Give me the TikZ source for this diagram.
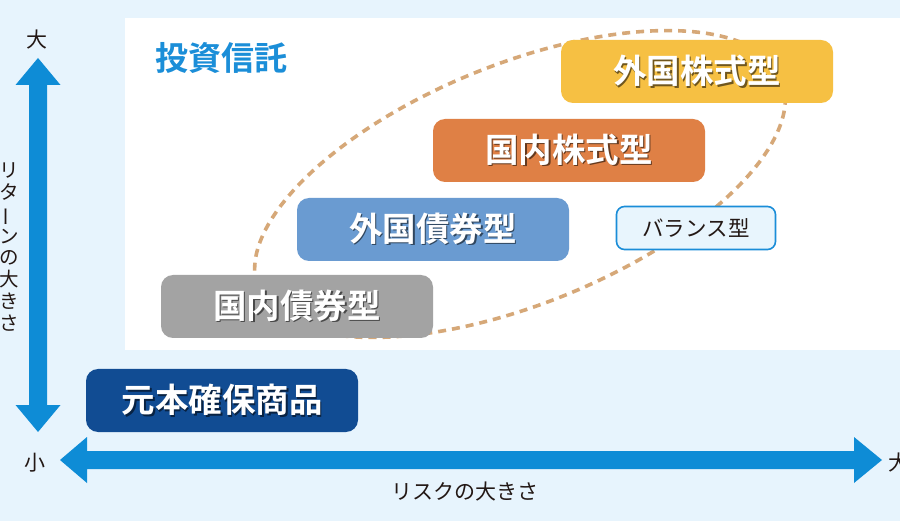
\documentclass[tikz,border=0pt]{standalone}
\usepackage{fontspec}
\setmainfont{Noto Sans CJK JP}[BoldFont={Noto Sans CJK JP Bold}]
\usepackage{graphicx}
\definecolor{bgblue}{HTML}{E7F4FD}
\definecolor{arrowblue}{HTML}{0E8CD6}
\definecolor{cyellow}{HTML}{F6C043}
\definecolor{corange}{HTML}{DF8045}
\definecolor{cblue}{HTML}{6A9BD1}
\definecolor{cgray}{HTML}{A3A3A3}
\definecolor{cnavy}{HTML}{114C93}
\definecolor{ellc}{HTML}{D6A878}
\definecolor{bfill}{HTML}{E8F5FD}
\definecolor{bborder}{HTML}{1A8DD8}
\definecolor{titleblue}{HTML}{1B8ED8}
\definecolor{txtdark}{HTML}{231815}
\newcommand{\shtxt}[2]{\makebox[0pt][l]{\kern1.6pt\raisebox{-1.6pt}{\textcolor{#1}{#2}}}#2}
\begin{document}
\begin{tikzpicture}[x=1pt,y=-1pt,
  catbox/.style={rounded corners=12pt, minimum width=272pt, minimum height=63pt,
    inner sep=0pt, text=white, font=\fontsize{33.5}{33.5}\selectfont\bfseries},
  axislabel/.style={inner sep=0pt, text=txtdark, font=\fontsize{21}{21}\selectfont},
  axisarrow/.style={fill=arrowblue}
]
\useasboundingbox (0,0) rectangle (900,521);
\fill[bgblue] (0,0) rectangle (900,521);
\fill[white] (125,18) rectangle (900,350);

% title
\node[inner sep=0pt, text=titleblue, font=\fontsize{33}{33}\selectfont\bfseries] (title) at (221,58) {投資信託};

% ellipse
\draw[ellc, line width=3.6pt, dash pattern=on 8pt off 6pt, rotate around={22:(520,184)}]
  (520,184) ellipse [x radius=282pt, y radius=120pt];

% boxes
\node[catbox, fill=cyellow] (gs) at (697,71.5) {\shtxt{cyellow!45!black}{外国株式型}};
\node[catbox, fill=corange] (ks) at (569,150.5) {\shtxt{corange!45!black}{国内株式型}};
\node[catbox, fill=cblue] (gb) at (433,229.5) {\shtxt{cblue!45!black}{外国債券型}};
\node[catbox, fill=cgray] (kb) at (297,306.5) {\shtxt{cgray!45!black}{国内債券型}};
\node[catbox, fill=cnavy] (gh) at (222,400.5) {\shtxt{cnavy!45!black}{元本確保商品}};
\node[draw=bborder, line width=1.6pt, fill=bfill, rounded corners=8pt,
  minimum width=159pt, minimum height=43pt, inner sep=0pt, text=txtdark,
  font=\fontsize{21.5}{21.5}\selectfont] (bal) at (696,228) {バランス型};

% vertical axis
\fill[axisarrow] (38,58) -- (60.5,85) -- (47,85) -- (47,405) -- (60.5,405) -- (38,432)
  -- (15.5,405) -- (29,405) -- (29,85) -- (15.5,85) -- cycle;
% horizontal axis
\fill[axisarrow] (60,460) -- (87,437) -- (87,451) -- (854,451) -- (854,437) -- (882,460)
  -- (854,483) -- (854,469) -- (87,469) -- (87,483) -- cycle;

\node[axislabel] (vbig) at (37.5,40) {大};
\node[axislabel] (vsmall) at (35,463) {小};
\node[axislabel, anchor=west] (hbig) at (888,463) {大};
\node[axislabel] (hlabel) at (465,492) {リスクの大きさ};
\node[inner sep=0pt, text=txtdark, align=center,
  font=\fontsize{19.5}{21.8}\selectfont] (vlabel) at (9,247)
  {リ\\タ\\\rotatebox[origin=c]{90}{ー}\\ン\\の\\大\\き\\さ};
\end{tikzpicture}
\end{document}
